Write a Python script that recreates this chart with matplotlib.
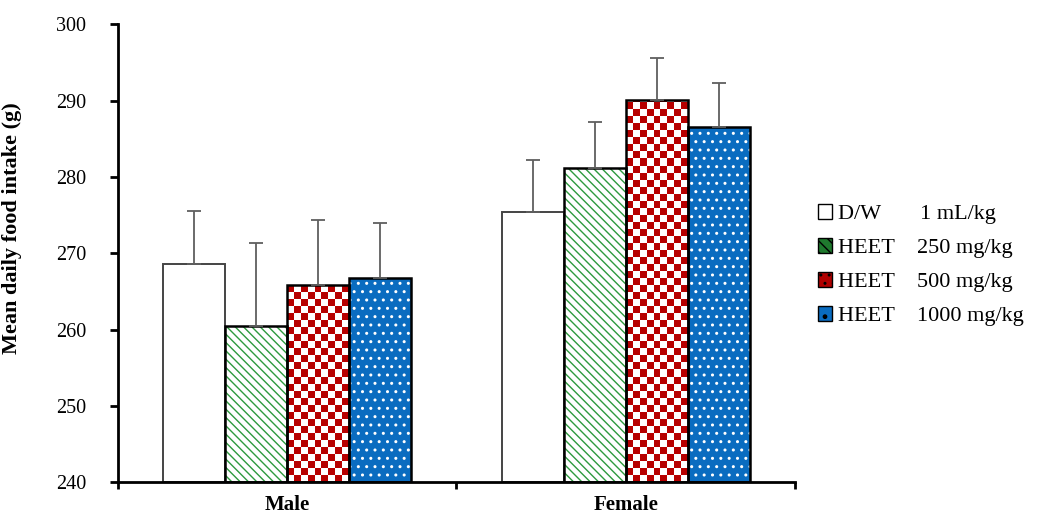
import numpy as np
import matplotlib.pyplot as plt
from matplotlib.ticker import FixedLocator

# mean daily food intake (g) and upper error (SD)
groups = ['Male', 'Female']
treatments = ['D/W       1 mL/kg', 'HEET    250 mg/kg', 'HEET    500 mg/kg', 'HEET    1000 mg/kg']
dw = [268.6, 275.4]
heet250 = [260.5, 281.1]
heet500 = [265.9, 290.1]
heet1000 = [266.8, 286.5]
dw_err = [7.0, 6.8]
heet250_err = [10.8, 6.1]
heet500_err = [8.4, 5.4]
heet1000_err = [7.1, 5.8]

plt.rcParams['font.family'] = ['Liberation Serif', 'DejaVu Serif']

fig = plt.figure(figsize=(10.55, 5.13), dpi=100)
ax = fig.add_axes([0.1118, 0.0595, 0.6418, 0.8935])

x = np.arange(len(groups))
w = 0.183
offsets = np.array([-1.5, -0.5, 0.5, 1.5]) * w
base = 240
err_kw = dict(ecolor='#5f5f5f', elinewidth=1.3, capsize=4.8, capthick=1.3)


def checker_fill(rects, color):
    # paint a red/white checker texture inside each bar
    cell_x = w / 9
    cell_y = 0.92
    for r in rects:
        x0, wd, h = r.get_x(), r.get_width(), r.get_height()
        ncol = int(round(wd / cell_x))
        nrow = int(np.ceil(h / cell_y))
        board = (np.add.outer(np.arange(nrow), np.arange(ncol)) % 2).astype(float)
        rgb = np.ones((nrow, ncol, 3))
        rgb[board == 1] = color
        im = ax.imshow(rgb, extent=(x0, x0 + wd, base, base + nrow * cell_y),
                       origin='lower', interpolation='nearest', aspect='auto', zorder=1.5)
        im.set_clip_path(r)


series = [
    (dw, dw_err),
    (heet250, heet250_err),
    (heet500, heet500_err),
    (heet1000, heet1000_err),
]

handles = []
for i, (vals, errs) in enumerate(series):
    h = np.array(vals) - base
    pos = x + offsets[i]
    yerr = [np.zeros(len(errs)), errs]
    if i == 0:
        ax.bar(pos, h, w, bottom=base, color='white', edgecolor='#444444',
               linewidth=1.4, zorder=2, yerr=yerr, error_kw=err_kw)
        handles.append(ax.bar([0], [0], 0, color='white', edgecolor='#333333',
                              linewidth=1.0))
    elif i == 1:
        ax.bar(pos, h, w, bottom=base, color='white', edgecolor='#2e9a3e',
               linewidth=0, hatch='\\\\\\\\', zorder=1.5)
        ax.bar(pos, h, w, bottom=base, color='none', edgecolor='black',
               linewidth=1.8, zorder=2, yerr=yerr, error_kw=err_kw)
        handles.append(ax.bar([0], [0], 0, color='#1f7a2e', edgecolor='white',
                              hatch='\\\\\\', linewidth=0))
    elif i == 2:
        clip = ax.bar(pos, h, w, bottom=base, color='white', linewidth=0, zorder=1)
        checker_fill(clip, (0.72, 0.0, 0.0))
        ax.bar(pos, h, w, bottom=base, color='none', edgecolor='black',
               linewidth=1.8, zorder=2, yerr=yerr, error_kw=err_kw)
        handles.append(ax.bar([0], [0], 0, color='#b00000', edgecolor='white',
                              hatch='..', linewidth=0))
    else:
        ax.bar(pos, h, w, bottom=base, color='#0a6cc0', edgecolor='white',
               linewidth=0, hatch='..', zorder=1.5)
        ax.bar(pos, h, w, bottom=base, color='none', edgecolor='black',
               linewidth=1.8, zorder=2, yerr=yerr, error_kw=err_kw)
        handles.append(ax.bar([0], [0], 0, color='#0a6cc0', edgecolor='white',
                              hatch='.', linewidth=0))

ax.set_xlim(-0.5, 1.5)
ax.set_ylim(240, 300)
ax.set_yticks(np.arange(240, 301, 10))
ax.set_xticks(x)
ax.set_xticklabels(groups, fontsize=15, fontweight='bold')
ax.xaxis.set_minor_locator(FixedLocator([-0.5, 0.5, 1.5]))
ax.tick_params(axis='x', which='major', length=0, pad=9)
ax.tick_params(axis='x', which='minor', length=5, width=2, direction='out')
ax.tick_params(axis='y', length=6, width=2, direction='out', labelsize=14.5, pad=17)

for s in ['top', 'right']:
    ax.spines[s].set_visible(False)
for s in ['left', 'bottom']:
    ax.spines[s].set_linewidth(2)

ax.set_ylabel('Mean daily food intake (g)', fontsize=16, fontweight='bold')
ax.yaxis.set_label_coords(-0.142, 0.555)

leg = fig.legend(handles, treatments, loc='center left', bbox_to_anchor=(0.756, 0.483),
                 frameon=False, fontsize=16, handlelength=0.65, handleheight=0.65,
                 handletextpad=0.25, labelspacing=0.62)
for hnd in leg.legend_handles:
    hnd.set_edgecolor('black')
    hnd.set_linewidth(1.0)

fig.savefig('out.png', dpi=100)
